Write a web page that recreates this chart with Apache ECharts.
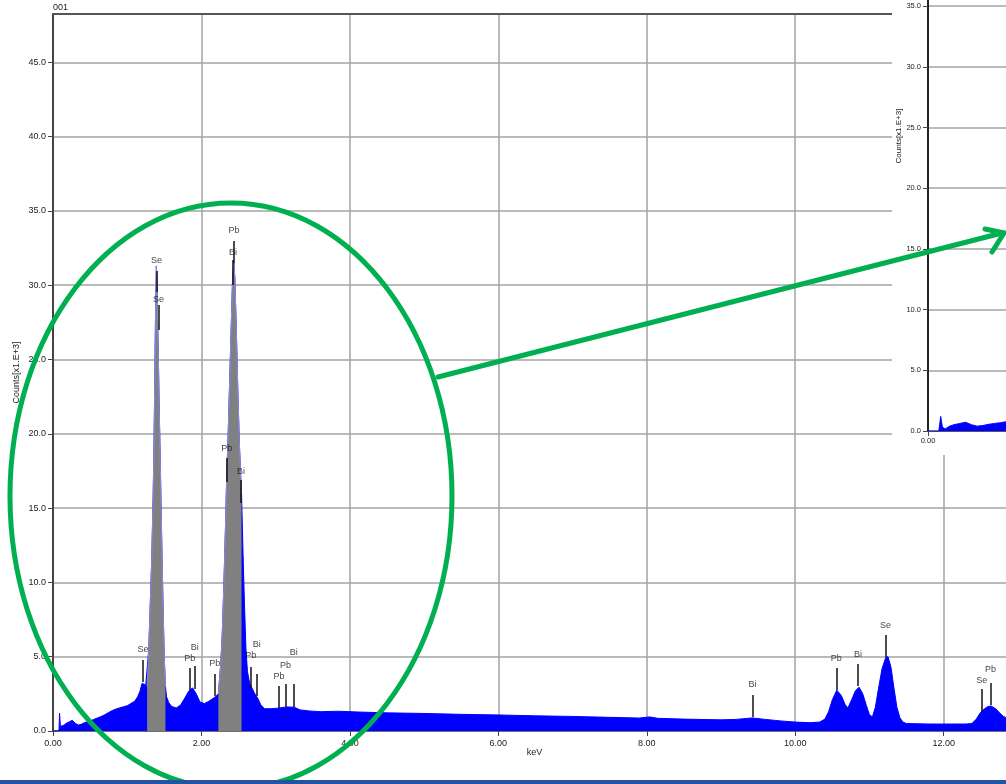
<!DOCTYPE html>
<html>
<head>
<meta charset="utf-8">
<style>
  html, body { margin: 0; padding: 0; background: #fff; }
  #main { width: 1006px; height: 784px; }
</style>
<script src="https://cdn.jsdelivr.net/npm/echarts@6/dist/echarts.min.js"></script>
</head>
<body>
<div id="main"></div>
<script>
// spectrum (keV, counts x1000)
const keV = [
  0.00, 0.075, 0.082, 0.088, 0.094, 0.10, 0.12, 0.15, 0.18, 0.22, 0.26, 0.30, 0.34, 0.38, 0.42, 0.46,
  0.50, 0.55, 0.60, 0.65, 0.70, 0.75, 0.80, 0.85, 0.90, 0.95, 1.00, 1.05, 1.10, 1.14, 1.17, 1.20,
  1.22, 1.25, 1.268, 1.29, 1.31, 1.33, 1.35, 1.36, 1.37, 1.38, 1.393, 1.40, 1.41, 1.42, 1.43, 1.44,
  1.455, 1.47, 1.485, 1.50, 1.515, 1.53, 1.56, 1.60, 1.66, 1.72, 1.78, 1.83, 1.88, 1.93, 1.98, 2.04,
  2.10, 2.16, 2.20, 2.228, 2.26, 2.28, 2.30, 2.32, 2.34, 2.36, 2.38, 2.40, 2.42, 2.437, 2.45, 2.47,
  2.49, 2.51, 2.53, 2.54, 2.56, 2.58, 2.60, 2.62, 2.65, 2.68, 2.72, 2.76, 2.80, 2.85, 2.95, 3.05,
  3.15, 3.25, 3.33, 3.45, 3.60, 3.85, 4.10, 4.50, 5.00, 5.50, 6.00, 6.50, 7.00, 7.50, 7.90, 8.04,
  8.15, 8.50, 9.00, 9.20, 9.42, 9.60, 9.80, 10.00, 10.20, 10.33, 10.40, 10.45, 10.50, 10.56, 10.62, 10.67,
  10.71, 10.76, 10.81, 10.86, 10.91, 10.96, 11.00, 11.04, 11.08, 11.12, 11.17, 11.22, 11.25, 11.29, 11.33, 11.37,
  11.41, 11.45, 11.50, 11.80, 12.00, 12.30, 12.38, 12.44, 12.49, 12.55, 12.60, 12.64, 12.70, 12.75, 12.80, 12.84
];
const counts = [
  0, 0, 0.15, 1.2, 1.15, 0.3, 0.18, 0.4, 0.52, 0.62, 0.72, 0.52, 0.4, 0.45, 0.55, 0.62,
  0.68, 0.78, 0.88, 0.98, 1.1, 1.25, 1.38, 1.48, 1.56, 1.63, 1.7, 1.85, 2.0, 2.3, 2.65, 3.2,
  3.3, 3.1, 3.0, 5.5, 8.5, 11.5, 16, 19, 23, 27.5, 31.3, 30.2, 27.5, 25, 22, 19.5,
  15.5, 11.5, 8, 4.8, 3, 2.3, 1.9, 1.65, 1.55, 1.75, 2.25, 2.7, 2.9, 2.5, 1.95, 1.85,
  2.0, 2.2, 2.35, 2.5, 4.5, 6.5, 9.5, 13, 17, 20, 23.5, 27, 30.5, 31.5, 30.5, 27,
  23, 19.5, 17, 16, 12, 8.5, 5.5, 4, 3.2, 2.9, 2.5, 2.2, 1.75, 1.5, 1.5, 1.55,
  1.62, 1.6, 1.42, 1.35, 1.3, 1.33, 1.28, 1.22, 1.18, 1.12, 1.08, 1.02, 0.98, 0.92, 0.87, 0.95,
  0.85, 0.8, 0.75, 0.78, 0.88, 0.78, 0.68, 0.6, 0.56, 0.6, 0.8, 1.3, 2.1, 2.75, 2.4, 1.8,
  1.55, 2.1, 2.7, 2.95, 2.5, 1.7, 1.1, 0.95, 1.6, 2.8, 4.2, 4.95, 5.0, 4.3, 2.9, 1.6,
  0.9, 0.6, 0.5, 0.47, 0.47, 0.47, 0.5, 0.8, 1.2, 1.5, 1.65, 1.68, 1.5, 1.25, 1.0, 0.9
];

// grey integration windows (keV)
const roiStart = [1.268, 2.228];
const roiEnd = [1.515, 2.54];

// peak identification markers
const peakNames = ['Se', 'Pb', 'Bi', 'Pb', 'Pb', 'Bi', 'Pb', 'Pb', 'Bi', 'Se', 'Se',
  'Pb', 'Bi', 'Pb', 'Bi', 'Bi', 'Pb', 'Bi', 'Se', 'Se', 'Pb'];
const peakKeV = [1.213, 1.842, 1.910, 2.179, 2.664, 2.745, 3.046, 3.132, 3.244, 1.393, 1.420,
  2.440, 2.426, 2.341, 2.534, 9.426, 10.553, 10.845, 11.218, 12.512, 12.630];
const peakLow = [3.30, 2.76, 2.83, 2.36, 2.89, 2.36, 1.55, 1.62, 1.62, 29.54, 26.99,
  31.49, 30.01, 16.76, 15.34, 0.94, 2.76, 3.03, 4.98, 1.28, 1.75];
const peakHigh = [4.78, 4.24, 4.37, 3.84, 4.31, 3.84, 3.03, 3.16, 3.16, 30.96, 28.67,
  32.97, 31.70, 18.37, 16.89, 2.42, 4.24, 4.51, 6.46, 2.83, 3.23];
const peakLabelAt = [5.45, 4.91, 5.65, 4.51, 5.05, 5.79, 3.70, 4.44, 5.25, 31.63, 29.07,
  33.65, 32.17, 18.98, 17.43, 3.10, 4.91, 5.18, 7.13, 3.43, 4.17];

const FONT = '"Liberation Sans", Arial, sans-serif';
const GREEN = '#00b050';

let chartDom = document.getElementById('main');
let myChart = echarts.init(chartDom);

let spectrum = keV.map((x, i) => [x, counts[i]]);
let roiData = keV.map((x, i) => {
  for (let k = 0; k < roiStart.length; k++) {
    if (x >= roiStart[k] && x <= roiEnd[k]) return [x, counts[i]];
  }
  return [x, null];
});

let markData = peakNames.map((n, i) => [
  { coord: [peakKeV[i], peakLow[i]] },
  { coord: [peakKeV[i], peakHigh[i]] }
]);
let labelData = peakNames.map((n, i) => ({ name: n, value: [peakKeV[i], peakLabelAt[i]] }));

let labelStyle = { color: '#222', fontSize: 9, fontFamily: FONT };
let smallLabel = { color: '#222', fontSize: 7.5, fontFamily: FONT };
let gridLine = { show: true, showMaxLine: false, lineStyle: { color: '#a3a3a3', width: 1.5 } };

let option = {
  animation: false,
  backgroundColor: '#fff',
  title: {
    text: '001', left: 53, top: 3, padding: 0,
    textStyle: { fontSize: 9, fontWeight: 'normal', color: '#222', fontFamily: FONT }
  },
  grid: [
    { left: 53, right: 0, top: 14, bottom: 53, outerBoundsMode: 'none' },
    { left: 928, right: 0, top: -159, bottom: 353, outerBoundsMode: 'none', z: 10 }
  ],
  xAxis: [
    {
      gridIndex: 0, type: 'value', min: 0, max: 12.84, interval: 2,
      name: 'keV', nameLocation: 'middle', nameGap: 17, nameMoveOverlap: false,
      nameTextStyle: Object.assign({ padding: [0, 0, 0, 10] }, labelStyle),
      axisLine: { lineStyle: { color: '#555', width: 1.5 } },
      axisTick: { length: 5, lineStyle: { color: '#444' } },
      axisLabel: Object.assign({ margin: 8, showMaxLabel: false, formatter: v => v.toFixed(2) }, labelStyle),
      splitLine: gridLine
    },
    {
      gridIndex: 0, type: 'value', position: 'top', min: 0, max: 12.84,
      axisLine: { show: true, lineStyle: { color: '#555', width: 2 } },
      axisTick: { show: false }, axisLabel: { show: false }, splitLine: { show: false }
    },
    {
      gridIndex: 1, type: 'value', min: 0, max: 0.54, interval: 2, z: 10,
      axisLine: { lineStyle: { color: '#555', width: 1 } },
      axisTick: { length: 5, lineStyle: { color: '#444' } },
      axisLabel: Object.assign({ margin: 6, showMaxLabel: false, formatter: v => v.toFixed(2) }, smallLabel),
      splitLine: { show: false }
    }
  ],
  yAxis: [
    {
      gridIndex: 0, type: 'value', min: 0, max: 48.25, interval: 5,
      name: 'Counts[x1.E+3]', nameLocation: 'middle', nameGap: 32, nameMoveOverlap: false,
      nameTextStyle: labelStyle,
      axisLine: { show: true, lineStyle: { color: '#444', width: 2 } },
      axisTick: { show: true, length: 5, lineStyle: { color: '#444' } },
      axisLabel: Object.assign({ margin: 7, showMaxLabel: false, formatter: v => v.toFixed(1) }, labelStyle),
      splitLine: gridLine
    },
    {
      gridIndex: 1, type: 'value', min: 0, max: 48.6, interval: 5, z: 10,
      name: 'Counts[x1.E+3]', nameLocation: 'middle', nameGap: 25, nameMoveOverlap: false,
      nameTextStyle: { color: '#222', fontSize: 8, fontFamily: FONT },
      axisLine: { show: true, lineStyle: { color: '#222', width: 2 } },
      axisTick: { show: true, length: 5, lineStyle: { color: '#444' } },
      axisLabel: Object.assign({ margin: 7, showMaxLabel: false, formatter: v => v.toFixed(1) }, smallLabel),
      splitLine: gridLine
    }
  ],
  series: [
    {
      type: 'line', xAxisIndex: 0, yAxisIndex: 0, data: spectrum, z: 2,
      showSymbol: false, silent: true,
      lineStyle: { color: '#0000ff', width: 1 },
      areaStyle: { color: '#0000ff', opacity: 1 }
    },
    {
      type: 'line', xAxisIndex: 0, yAxisIndex: 0, data: roiData, z: 3,
      showSymbol: false, silent: true, connectNulls: false,
      lineStyle: { color: '#8c8cd8', width: 1 },
      areaStyle: { color: '#808080', opacity: 1 },
      markLine: {
        silent: true, symbol: ['none', 'none'], animation: false,
        lineStyle: { color: '#111', width: 1.5, type: 'solid' },
        label: { show: false },
        emphasis: { disabled: true },
        data: markData
      }
    },
    {
      type: 'scatter', xAxisIndex: 0, yAxisIndex: 0, data: labelData, z: 4,
      symbolSize: 1, silent: true, itemStyle: { color: 'rgba(0,0,0,0)' },
      label: Object.assign({ show: true, position: 'inside', formatter: '{b}' }, labelStyle, { color: '#111' })
    },
    {
      type: 'line', xAxisIndex: 2, yAxisIndex: 1, data: spectrum, z: 12,
      showSymbol: false, silent: true,
      lineStyle: { color: '#0000ff', width: 1 },
      areaStyle: { color: '#0000ff', opacity: 1 }
    }
  ],
  graphic: [
    { type: 'rect', z: 5, silent: true, shape: { x: 892, y: 0, width: 114, height: 455 }, style: { fill: '#fff' } },
    { type: 'ellipse', z: 100, silent: true, shape: { cx: 231, cy: 496, rx: 221, ry: 293 },
      style: { fill: 'none', stroke: GREEN, lineWidth: 5 } },
    { type: 'line', z: 100, silent: true, shape: { x1: 438, y1: 377, x2: 1002, y2: 233 },
      style: { stroke: GREEN, lineWidth: 5, lineCap: 'round' } },
    { type: 'polyline', z: 100, silent: true, shape: { points: [[985, 229], [1004, 233], [992, 252]] },
      style: { stroke: GREEN, lineWidth: 5, lineCap: 'round', fill: 'none' } },
    { type: 'rect', z: 100, silent: true, shape: { x: 0, y: 780, width: 1006, height: 4 }, style: { fill: '#2553a3' } }
  ]
};

myChart.setOption(option);
</script>
</body>
</html>
